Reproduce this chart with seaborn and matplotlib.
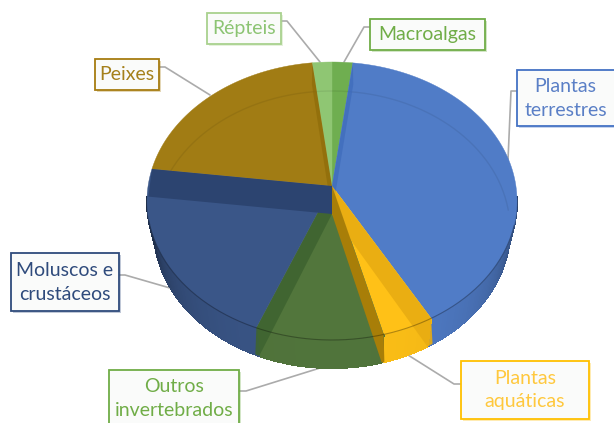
import numpy as np
import seaborn as sns
import matplotlib.pyplot as plt
from matplotlib.patches import Polygon, Rectangle

# clockwise from the top of the pie
slices = ['Macroalgas', 'Plantas terrestres', 'Plantas aquáticas', 'Outros invertebrados',
          'Moluscos e crustáceos', 'Peixes', 'Répteis']
shares = [1.8, 39.2, 4.5, 11.2, 22.0, 19.6, 1.7]
label_text = ['Macroalgas', 'Plantas\nterrestres', 'Plantas\naquáticas', 'Outros\ninvertebrados',
              'Moluscos e\ncrustáceos', 'Peixes', 'Répteis']

top_colors = sns.color_palette(['#6FAE50', '#507CC7', '#FFC117', '#52763C', '#3A5688', '#A17C14', '#8FC673'])
text_colors = ['#70AD47', '#5A7FC6', '#FFC83D', '#70AD47', '#2F4B7C', '#A5801B', '#8CC473']
edge_colors = ['#70AD47', '#4472C4', '#FFC000', '#70AD47', '#2F4B7C', '#A67C10', '#A9D18E']

# label boxes: left, top, right, bottom, in pixels
boxes = [(370, 19, 485, 50), (517, 70, 620, 126), (461, 361, 589, 419), (109, 370, 239, 430),
         (11, 253, 119, 311), (95, 59, 159, 90), (207, 13, 281, 44)]
leaders = [[(370, 27), (364, 27), (344, 62)], [(517, 91), (511, 91), (508, 160)],
           [(461, 384), (454, 384), (408, 355)], [(239, 391), (246, 391), (320, 368)],
           [(119, 275), (125, 275), (170, 288)], [(160, 67), (165, 67), (210, 95)],
           [(281, 21), (287, 21), (320, 62)]]

sns.set_theme(style='white')
plt.rcParams['font.family'] = ['Lato', 'DejaVu Sans']

fig = plt.figure(figsize=(6.14, 4.23), dpi=100)
ax = fig.add_axes([0, 0, 1, 1])
ax.set_xlim(0, 614)
ax.set_ylim(423, 0)
ax.axis('off')

apex = np.array([332, 186])
floor = np.array([332, 214])


def top_rim(t):
    t = np.radians(t)
    return np.column_stack([332 + 185 * np.sin(t), 201 - 139 * np.cos(t)])


def low_rim(t):
    t = np.radians(t)
    return np.column_stack([332 + 178 * np.sin(t), 229.5 - 138.5 * np.cos(t)])


edges = np.concatenate([[0], np.cumsum(shares) / np.sum(shares) * 360])

hull = np.vstack([top_rim(np.linspace(-90, 90, 200)), low_rim(np.linspace(90, 270, 200))])
clip = Polygon(hull, transform=ax.transData)

# side of the disc, in thin strips so it can darken towards the edges
for i in range(len(shares)):
    a0, a1 = max(edges[i], 88), min(edges[i + 1], 272)
    if a1 <= a0:
        continue
    steps = np.linspace(a0, a1, max(int(a1 - a0), 1) + 1)
    for s0, s1 in zip(steps[:-1], steps[1:]):
        mid = abs((s0 + s1) / 2 - 180) / 90
        shade = 0.98 - 0.5 * mid ** 3
        col = np.array(top_colors[i]) * shade
        pts = np.vstack([top_rim(np.array([s0, s1])), low_rim(np.array([s1, s0]))])
        ax.add_patch(Polygon(pts, fc=col, ec=col, lw=0.8, antialiased=False, zorder=2))

# top faces
for i in range(len(shares)):
    ts = np.linspace(edges[i], edges[i + 1], 100)
    pts = np.vstack([apex, top_rim(ts)])
    ax.add_patch(Polygon(pts, fc=top_colors[i], ec=top_colors[i], lw=0.3, zorder=3))

# far edge of the base, seen through the top
ts = np.linspace(-75, 82, 200)
arc = low_rim(ts)
ax.plot(arc[:, 0], arc[:, 1], color='black', alpha=0.07, lw=1, zorder=4)

# cut walls, drawn over the faces: boundary index, colour, alpha
walls = [(1, '#3F6CBC', 0.75), (6, '#8F6C0A', 0.75), (2, '#E8AC12', 0.9),
         (3, '#A87E08', 1.0), (4, '#3F6430', 0.9), (5, '#2C4470', 1.0)]
for b, col, alpha in walls:
    t = np.array([edges[b]])
    p_top = top_rim(t)[0]
    p_low = low_rim(t)[0]
    p_low = floor + (p_low - floor) * 1.06
    pts = np.array([apex, p_top, p_low, floor])
    poly = Polygon(pts, fc=col, ec='none', alpha=alpha, zorder=5)
    ax.add_patch(poly)
    poly.set_clip_path(clip)

# near edge of the top face
ts = np.linspace(100, 262, 200)
arc = top_rim(ts)
ax.plot(arc[:, 0], arc[:, 1], color='black', alpha=0.3, lw=0.8, zorder=6)

for line in leaders:
    line = np.array(line)
    ax.plot(line[:, 0], line[:, 1], color='#ABABAB', lw=1.2, zorder=1)

for i in range(len(slices)):
    l, t, r, b = boxes[i]
    ax.add_patch(Rectangle((l + 2, t + 2), r - l, b - t, fc=edge_colors[i], ec='none', alpha=0.3, zorder=7))
    ax.add_patch(Rectangle((l, t), r - l, b - t, fc='#FAFBFA', ec=edge_colors[i], lw=1.3, zorder=8))
    ty = (t + b) / 2
    if i == 3:
        ty = 399
    ax.text((l + min(r, 606)) / 2 + (4 if i == 1 else 0), ty, label_text[i], color=text_colors[i], fontsize=14,
            ha='center', va='center', linespacing=1.5, zorder=9)

plt.savefig('out.png', dpi=100)
